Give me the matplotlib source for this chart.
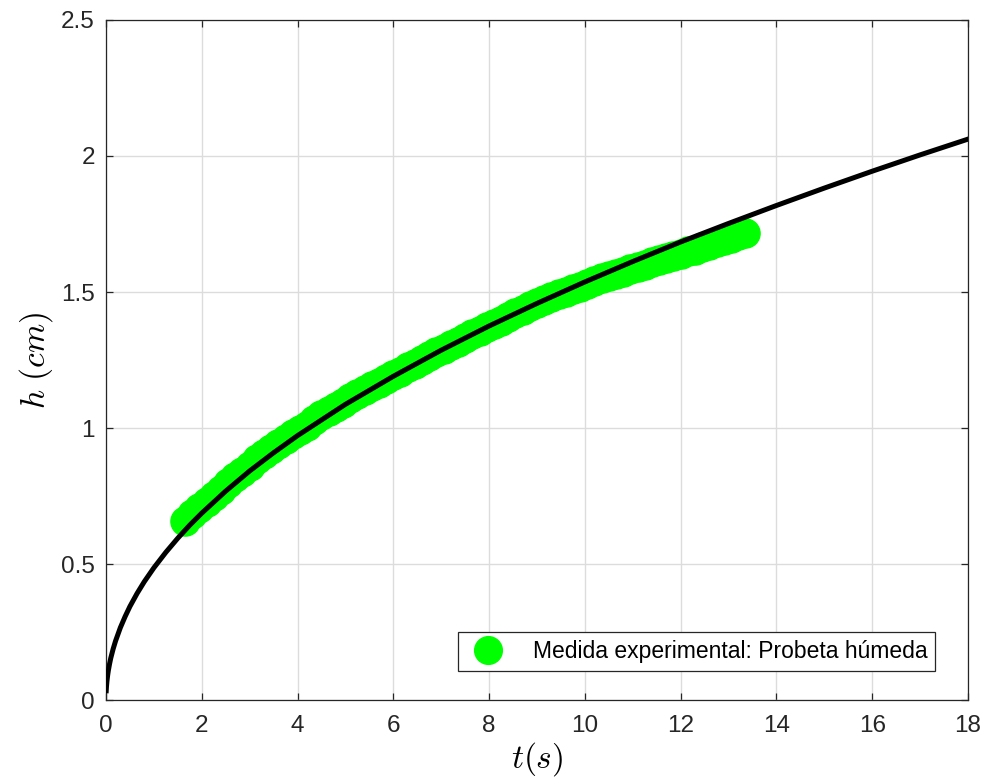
import matplotlib
matplotlib.use("Agg")
import matplotlib.pyplot as plt
from matplotlib.ticker import FuncFormatter

# ==========================
# Dados
# ==========================
t_exp = [1.65, 1.80, 1.95, 2.10, 2.25, 2.40, 2.55, 2.70, 2.85, 3.00,
         3.15, 3.30, 3.45, 3.60, 3.75, 3.90, 4.05, 4.20, 4.35, 4.50,
         4.65, 4.80, 4.95, 5.10, 5.25, 5.40, 5.55, 5.70, 5.85, 6.00,
         6.15, 6.30, 6.45, 6.60, 6.75, 6.90, 7.05, 7.20, 7.35, 7.50,
         7.65, 7.80, 7.95, 8.10, 8.25, 8.40, 8.55, 8.70, 8.85, 9.00,
         9.15, 9.30, 9.45, 9.60, 9.75, 9.90, 10.05, 10.20, 10.35, 10.50,
         10.65, 10.80, 10.95, 11.10, 11.25, 11.40, 11.55, 11.70, 11.85, 12.00,
         12.15, 12.30, 12.45, 12.60, 12.75, 12.90, 13.05, 13.20, 13.35]
h_exp = [0.659, 0.684, 0.707, 0.729, 0.751, 0.773, 0.796, 0.819, 0.840, 0.862,
         0.885, 0.903, 0.921, 0.942, 0.961, 0.978, 0.994, 1.008, 1.028, 1.047,
         1.063, 1.078, 1.093, 1.109, 1.124, 1.138, 1.153, 1.166, 1.180, 1.194,
         1.207, 1.223, 1.236, 1.249, 1.263, 1.279, 1.290, 1.304, 1.316, 1.331,
         1.344, 1.357, 1.370, 1.383, 1.394, 1.409, 1.421, 1.434, 1.448, 1.458,
         1.469, 1.480, 1.491, 1.501, 1.511, 1.520, 1.530, 1.540, 1.550, 1.558,
         1.567, 1.575, 1.584, 1.592, 1.601, 1.609, 1.617, 1.625, 1.633, 1.641,
         1.649, 1.656, 1.665, 1.674, 1.682, 1.691, 1.699, 1.708, 1.716]

t_fit = [0.005, 0.01, 0.02, 0.035, 0.05, 0.075, 0.1, 0.15, 0.2, 0.3, 0.4,
         0.5, 0.65, 0.8, 1, 1.25, 1.5, 1.75, 2, 2.5, 3, 3.5, 4, 5, 6, 7, 8,
         9, 10, 11, 12, 13, 14, 15, 16, 17, 18]
h_fit = [0.034, 0.049, 0.069, 0.091, 0.109, 0.133, 0.154, 0.188, 0.217,
         0.266, 0.307, 0.344, 0.392, 0.435, 0.486, 0.543, 0.595, 0.643,
         0.687, 0.768, 0.842, 0.909, 0.972, 1.087, 1.190, 1.286, 1.375,
         1.458, 1.537, 1.612, 1.684, 1.752, 1.818, 1.882, 1.944, 2.004, 2.062]

x_ticks = [0, 2, 4, 6, 8, 10, 12, 14, 16, 18]
y_ticks = [0, 0.5, 1, 1.5, 2, 2.5]

legend_label = "Medida experimental: Probeta húmeda"


def main():
    plt.rcParams["font.family"] = ["Liberation Sans", "DejaVu Sans"]
    plt.rcParams["mathtext.fontset"] = "cm"

    fig = plt.figure(figsize=(9.84, 7.81), dpi=100)
    ax = fig.add_axes([0.1077, 0.1037, 0.876, 0.8707])

    ax.plot(t_exp, h_exp, "o", color="#00ff00", markersize=21,
            markeredgecolor="#00ff00", label=legend_label, zorder=3)
    ax.plot(t_fit, h_fit, "-", color="black", linewidth=3.6, zorder=4)

    ax.set_xlim(0, 18)
    ax.set_ylim(0, 2.5)
    ax.set_xticks(x_ticks)
    ax.set_yticks(y_ticks)
    ax.yaxis.set_major_formatter(FuncFormatter(lambda v, p: f"{v:g}"))

    ax.grid(True, color="#dcdcdc", linewidth=1.0)
    ax.set_axisbelow(True)
    ax.tick_params(direction="in", top=True, right=True, length=5,
                   labelsize=17.5, colors="#262626", width=0.9)
    ax.tick_params(axis="x", pad=11)
    ax.tick_params(axis="y", pad=8)
    for s in ax.spines.values():
        s.set_color("#262626")
        s.set_linewidth(0.9)

    ax.set_xlabel(r"$t(s)$", fontsize=24, labelpad=2)
    ax.set_ylabel(r"$h\ (cm)$", fontsize=24, labelpad=4)

    leg = ax.legend(loc="lower right", bbox_to_anchor=(0.962, 0.043),
                    borderaxespad=0, fontsize=16.5, fancybox=False,
                    framealpha=1, edgecolor="#262626", handlelength=1.9,
                    handletextpad=1.0, borderpad=0.35, markerscale=0.95)
    leg.get_frame().set_linewidth(0.9)

    fig.savefig("out.png", dpi=100)


if __name__ == "__main__":
    main()
